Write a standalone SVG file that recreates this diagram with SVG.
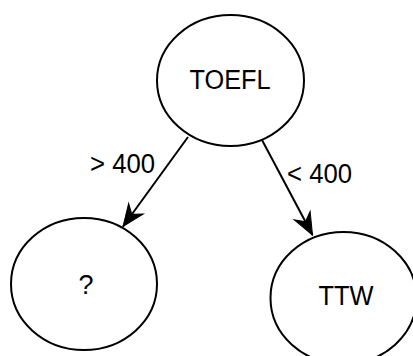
<svg xmlns="http://www.w3.org/2000/svg" width="413" height="356" viewBox="0 0 413 356">
<style>
.n{fill:#fff;stroke:#000;stroke-width:2}
.t{font-family:"Liberation Sans",Arial,sans-serif;font-size:27px;fill:#000}
.e{stroke:#000;stroke-width:2;fill:none}
</style>
<defs>
<marker id="ah" markerUnits="userSpaceOnUse" markerWidth="26" markerHeight="22" viewBox="-24 -11 26 22" refX="0" refY="0" orient="auto">
<path d="M0,0 L-22,9 L-15,0 L-22,-9 Z" fill="#000" stroke="#000" stroke-width="1" stroke-linejoin="miter"/>
</marker>
</defs>
<rect width="413" height="356" fill="#fff"/>
<g id="edges">
<line class="e" x1="188" y1="137" x2="123" y2="226.5" marker-end="url(#ah)"/>
<line class="e" x1="262" y1="140" x2="312.5" y2="235" marker-end="url(#ah)"/>
<text class="t" x="90" y="173" textLength="65" lengthAdjust="spacingAndGlyphs">&gt; 400</text>
<text class="t" x="287" y="183" textLength="65" lengthAdjust="spacingAndGlyphs">&lt; 400</text>
</g>
<g id="toefl">
<ellipse class="n" cx="230.5" cy="80.5" rx="73.5" ry="65.5"/>
<text class="t" x="189.5" y="89" textLength="81" lengthAdjust="spacingAndGlyphs">TOEFL</text>
</g>
<g id="unknown">
<ellipse class="n" cx="84" cy="284" rx="73" ry="66"/>
<text class="t" x="86" y="294" text-anchor="middle">?</text>
</g>
<g id="ttw">
<ellipse class="n" cx="343.5" cy="298" rx="73" ry="66"/>
<text class="t" x="318.5" y="305" textLength="55" lengthAdjust="spacingAndGlyphs">TTW</text>
</g>
</svg>
